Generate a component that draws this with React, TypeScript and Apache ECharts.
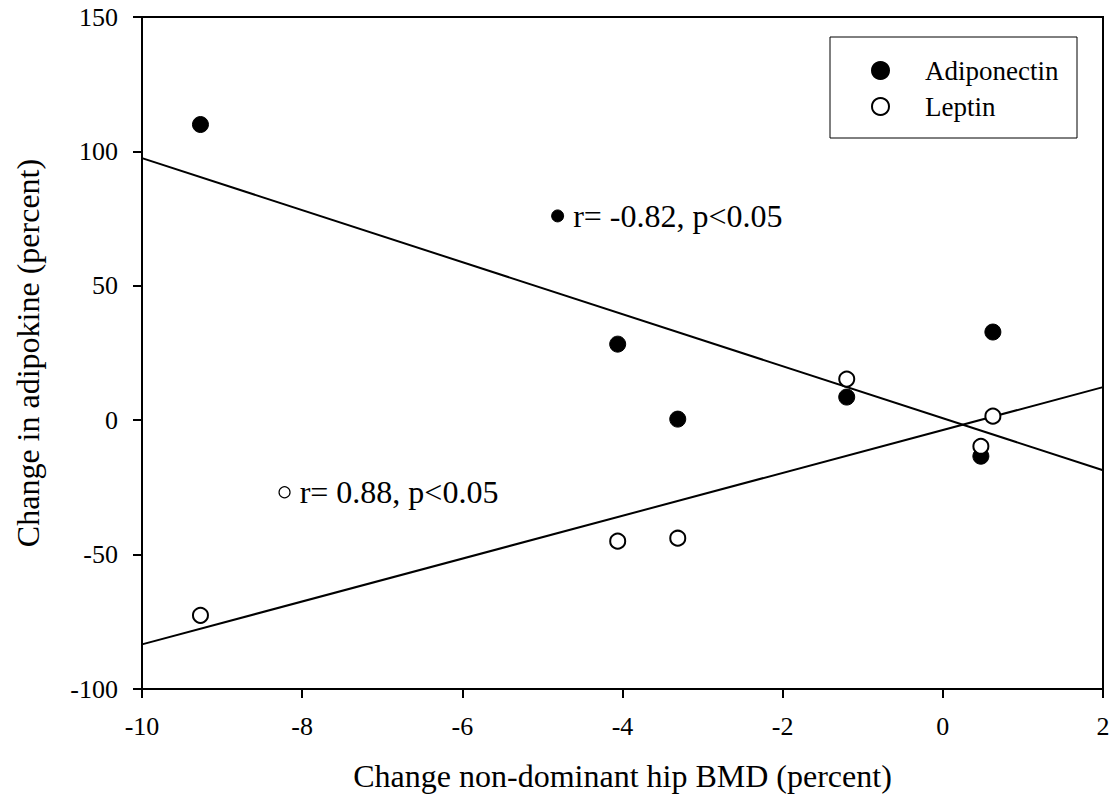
import React, { useEffect, useRef } from "react";
import * as echarts from "echarts";

const adipoX = [-9.27, -4.06, -3.31, -1.2, 0.625, 0.475];
const adipoY = [110, 28.3, 0.4, 8.6, 32.8, -13.4];
const leptinX = [-9.27, -4.06, -3.31, -1.2, 0.625, 0.475];
const leptinY = [-72.6, -45, -43.9, 15.3, 1.5, -9.7];
const adipoFitX = [-10, 2];
const adipoFitY = [97.5, -18.6];
const leptinFitX = [-10, 2];
const leptinFitY = [-83.4, 12.3];
const annoAdipo = { x: -4.81, y: 76, text: "r= -0.82, p<0.05" };
const annoLeptin = { x: -8.22, y: -26.8, text: "r= 0.88, p<0.05" };
const xTitle = "Change non-dominant hip BMD (percent)";
const yTitle = "Change in adipokine (percent)";
const seriesNames = ["Adiponectin", "Leptin"];

const FONT = "'Liberation Serif', 'Times New Roman', serif";

export default function App() {
  const ref = useRef<HTMLDivElement>(null);
  useEffect(() => {
    if (!ref.current) return;
    const chart = echarts.init(ref.current, undefined, { renderer: "svg" });
    const zip = (xs: number[], ys: number[]) => xs.map((x, i) => [x, ys[i]]);
    const filledStyle = { color: "#000", borderColor: "#000", borderWidth: 1, opacity: 1 };
    const openStyle = { color: "#fff", borderColor: "#000", borderWidth: 2, opacity: 1 };
    chart.setOption({
      animation: false,
      backgroundColor: "#fff",
      textStyle: { fontFamily: FONT, color: "#000" },
      grid: {
        left: 142,
        right: 10,
        top: 17,
        bottom: 118,
        show: true,
        borderColor: "#000",
        borderWidth: 2,
        backgroundColor: "transparent",
      },
      xAxis: {
        type: "value",
        min: -10,
        max: 2,
        interval: 2,
        name: xTitle,
        nameLocation: "middle",
        nameGap: 71,
        nameTextStyle: { fontFamily: FONT, fontSize: 32, color: "#000" },
        axisLine: { show: true, onZero: false, lineStyle: { color: "#000", width: 2 } },
        axisTick: { show: true, inside: false, length: 9, lineStyle: { color: "#000", width: 2 } },
        axisLabel: { fontFamily: FONT, fontSize: 26, color: "#000", margin: 24 },
        splitLine: { show: false },
      },
      yAxis: {
        type: "value",
        min: -100,
        max: 150,
        interval: 50,
        name: yTitle,
        nameLocation: "middle",
        nameGap: 98,
        nameTextStyle: { fontFamily: FONT, fontSize: 32, color: "#000" },
        axisLine: { show: true, onZero: false, lineStyle: { color: "#000", width: 2 } },
        axisTick: { show: true, inside: false, length: 9, lineStyle: { color: "#000", width: 2 } },
        axisLabel: { fontFamily: FONT, fontSize: 26, color: "#000", margin: 24 },
        splitLine: { show: false },
      },
      legend: {
        data: seriesNames,
        orient: "vertical",
        left: 871,
        top: 57,
        padding: 0,
        itemWidth: 17,
        itemHeight: 17,
        itemGap: 9,
        textStyle: { fontFamily: FONT, fontSize: 27, color: "#000", padding: [0, 0, 0, 31] },
      },
      graphic: [
        {
          type: "rect",
          shape: { x: 830, y: 37, width: 247, height: 101 },
          style: { fill: "none", stroke: "#000", lineWidth: 1 },
          z: 0,
        },
      ],
      series: [
        {
          type: "line",
          data: zip(adipoFitX, adipoFitY),
          showSymbol: false,
          symbol: "none",
          lineStyle: { color: "#000", width: 2 },
          z: 1,
          silent: true,
        },
        {
          type: "line",
          data: zip(leptinFitX, leptinFitY),
          showSymbol: false,
          symbol: "none",
          lineStyle: { color: "#000", width: 2 },
          z: 1,
          silent: true,
        },
        {
          name: seriesNames[0],
          type: "scatter",
          data: zip(adipoX, adipoY),
          symbol: "circle",
          symbolSize: 16,
          itemStyle: filledStyle,
          z: 3,
        },
        {
          name: seriesNames[1],
          type: "scatter",
          data: zip(leptinX, leptinY),
          symbol: "circle",
          symbolSize: 15,
          itemStyle: openStyle,
          z: 4,
        },
        {
          type: "scatter",
          data: [[annoAdipo.x, annoAdipo.y]],
          symbol: "circle",
          symbolSize: 12,
          itemStyle: filledStyle,
          label: {
            show: true,
            position: "right",
            distance: 9,
            formatter: annoAdipo.text,
            fontFamily: FONT,
            fontSize: 32,
            color: "#000",
          },
          z: 3,
        },
        {
          type: "scatter",
          data: [[annoLeptin.x, annoLeptin.y]],
          symbol: "circle",
          symbolSize: 11,
          itemStyle: { color: "#fff", borderColor: "#000", borderWidth: 1.2, opacity: 1 },
          label: {
            show: true,
            position: "right",
            distance: 9,
            formatter: annoLeptin.text,
            fontFamily: FONT,
            fontSize: 32,
            color: "#000",
          },
          z: 3,
        },
      ],
    });
    return () => chart.dispose();
  }, []);
  return (
    <div
      ref={ref}
      style={{ position: "fixed", left: 0, top: 0, width: 1113, height: 807 }}
    />
  );
}
